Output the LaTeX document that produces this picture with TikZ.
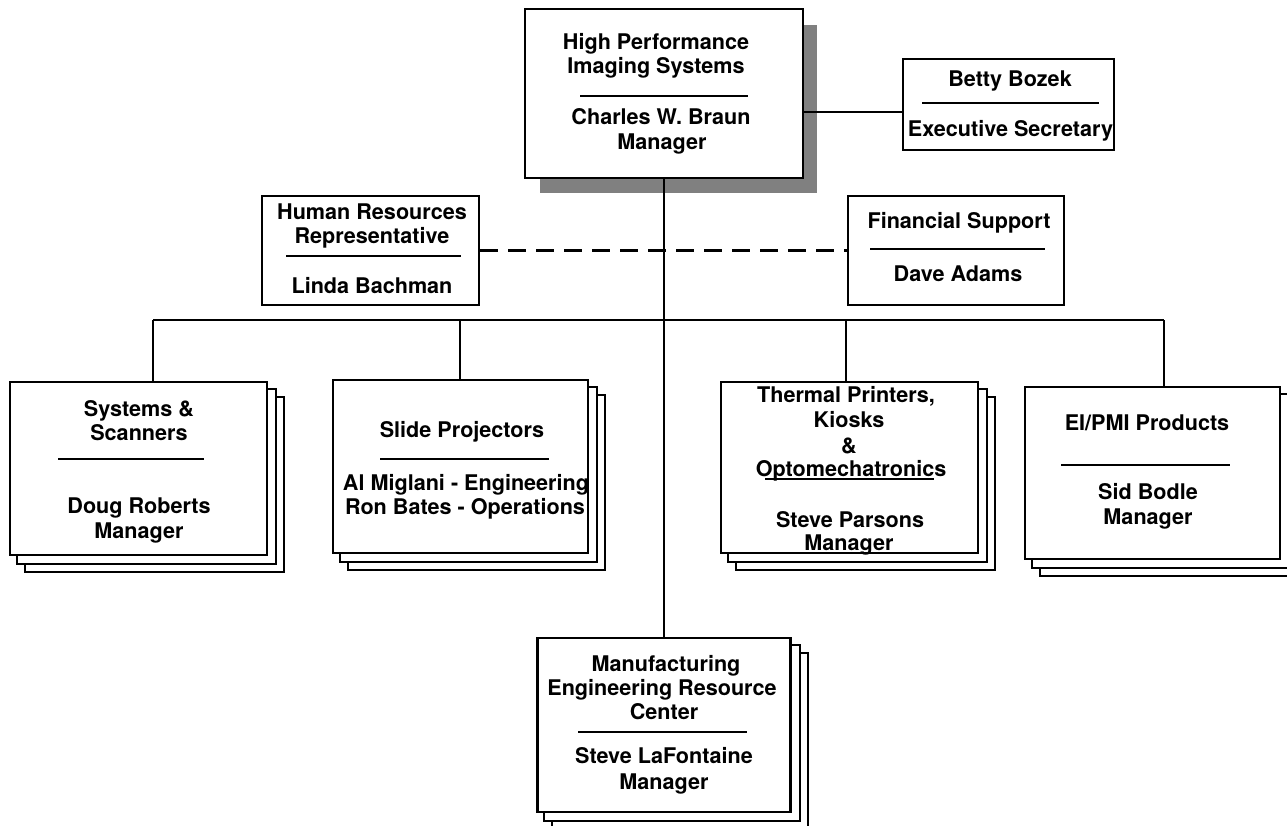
\documentclass[tikz,border=0pt]{standalone}
\usepackage{fontspec}
\newfontfamily\hvfont{TeX Gyre Heros}
\usetikzlibrary{calc,backgrounds}
\begin{document}
\begin{tikzpicture}[x=1pt,y=-1pt,
  orgbox/.style={draw, line width=2.5pt, fill=white, inner sep=0pt, rectangle},
  stackbox/.style={draw, line width=2.2pt, fill=white},
  lbl/.style={font=\hvfont\bfseries\fontsize{21.6}{24}\selectfont, anchor=base, inner sep=0pt},
  wire/.style={line width=2.2pt},
  rulel/.style={line width=2pt}]
\useasboundingbox (0,0) rectangle (1287,826);
% boxes
\node[orgbox, minimum width=278pt, minimum height=169pt] (top) at (664,93.5) {};
\node[orgbox, minimum width=211pt, minimum height=91pt] (betty) at (1008.5,104.5) {};
\node[orgbox, minimum width=217pt, minimum height=109pt] (hr) at (370.5,250.5) {};
\node[orgbox, minimum width=216pt, minimum height=109pt] (fin) at (956,250.5) {};
\node[orgbox, minimum width=257pt, minimum height=173pt] (sys) at (138.5,468.5) {};
\node[orgbox, minimum width=255pt, minimum height=173pt] (slide) at (460.5,466.5) {};
\node[orgbox, minimum width=257pt, minimum height=171pt] (therm) at (849.5,467.5) {};
\node[orgbox, minimum width=255pt, minimum height=172pt] (ei) at (1152.5,473) {};
\node[orgbox, minimum width=253pt, minimum height=174pt] (mfg) at (664,725) {};
% background: shadow and stacks
\begin{scope}[on background layer]
\fill[white] (0,0) rectangle (1287,826);
\fill[black!50] (540,25) rectangle (817,193);
\foreach \n in {sys,slide,therm,ei,mfg}{
  \foreach \d in {16,8}{
    \draw[stackbox] ($(\n.south west)+(\d,\d)$) rectangle ($(\n.north east)+(\d,\d)$);
  }}
\end{scope}
% connectors
\draw[wire] (top.south) -- (mfg.north);
\coordinate (sy) at (0,112);
\draw[wire] (top.east |- sy) -- (betty.west |- sy);
\draw[wire, dash pattern=on 18pt off 10pt] (hr.east) -- (fin.west);
\coordinate (b1) at (153,320);
\coordinate (b2) at (460,320);
\coordinate (b3) at (846,320);
\coordinate (b4) at (1164,320);
\draw[wire] (b1) -- (b4);
\draw[wire] (b1) -- (b1 |- sys.north);
\draw[wire] (b2) -- (b2 |- slide.north);
\draw[wire] (b3) -- (b3 |- therm.north);
\draw[wire] (b4) -- (b4 |- ei.north);
% texts: top
\node[lbl] (t1) at (656,50) {High Performance};
\node[lbl] (t2) at (656,74) {Imaging Systems};
\draw[rulel] (580,96) -- (748,96);
\node[lbl] (t3) at (661,125) {Charles W. Braun};
\node[lbl] (t4) at (662,150) {Manager};
% betty
\node[lbl] (b5) at (1010,87) {Betty Bozek};
\draw[rulel] (922,103) -- (1099,103);
\node[lbl] (b6) at (1010.5,137) {Executive Secretary};
% hr
\node[lbl] (h1) at (372,220) {Human Resources};
\node[lbl] (h2) at (372,244) {Representative};
\draw[rulel] (286,256) -- (461,256);
\node[lbl] (h3) at (372,294) {Linda Bachman};
% fin
\node[lbl] (f1) at (959,229) {Financial Support};
\draw[rulel] (870,249) -- (1045,249);
\node[lbl] (f2) at (958,282) {Dave Adams};
% sys
\node[lbl] (s1) at (139,416) {Systems \&};
\node[lbl] (s2) at (139,440) {Scanners};
\draw[rulel] (58,459) -- (204,459);
\node[lbl] (s3) at (139,513) {Doug Roberts};
\node[lbl] (s4) at (139,538) {Manager};
% slide
\node[lbl] (p1) at (462,437) {Slide Projectors};
\draw[rulel] (380,459) -- (549,459);
\node[lbl] (p2) at (466,490) {Al Miglani - Engineering};
\node[lbl] (p3) at (465,514) {Ron Bates - Operations};
% thermal
\node[lbl] (m1) at (846,402) {Thermal Printers,};
\node[lbl] (m2) at (849,427) {Kiosks};
\node[lbl] (m3) at (849,453) {\&};
\node[lbl] (m4) at (851,476) {Optomechatronics};
\draw[rulel] (765,479) -- (934,479);
\node[lbl] (m5) at (850,527) {Steve Parsons};
\node[lbl] (m6) at (849,550) {Manager};
% ei
\node[lbl] (e1) at (1147,430) {EI/PMI Products};
\draw[rulel] (1061,465) -- (1230,465);
\node[lbl] (e2) at (1148,499) {Sid Bodle};
\node[lbl] (e3) at (1148,524) {Manager};
% mfg
\node[lbl] (g1) at (666,671) {Manufacturing};
\node[lbl] (g2) at (662,695) {Engineering Resource};
\node[lbl] (g3) at (664,719) {Center};
\draw[rulel] (578,732) -- (747,732);
\node[lbl] (g4) at (664,763) {Steve LaFontaine};
\node[lbl] (g5) at (664,789) {Manager};
\end{tikzpicture}
\end{document}
